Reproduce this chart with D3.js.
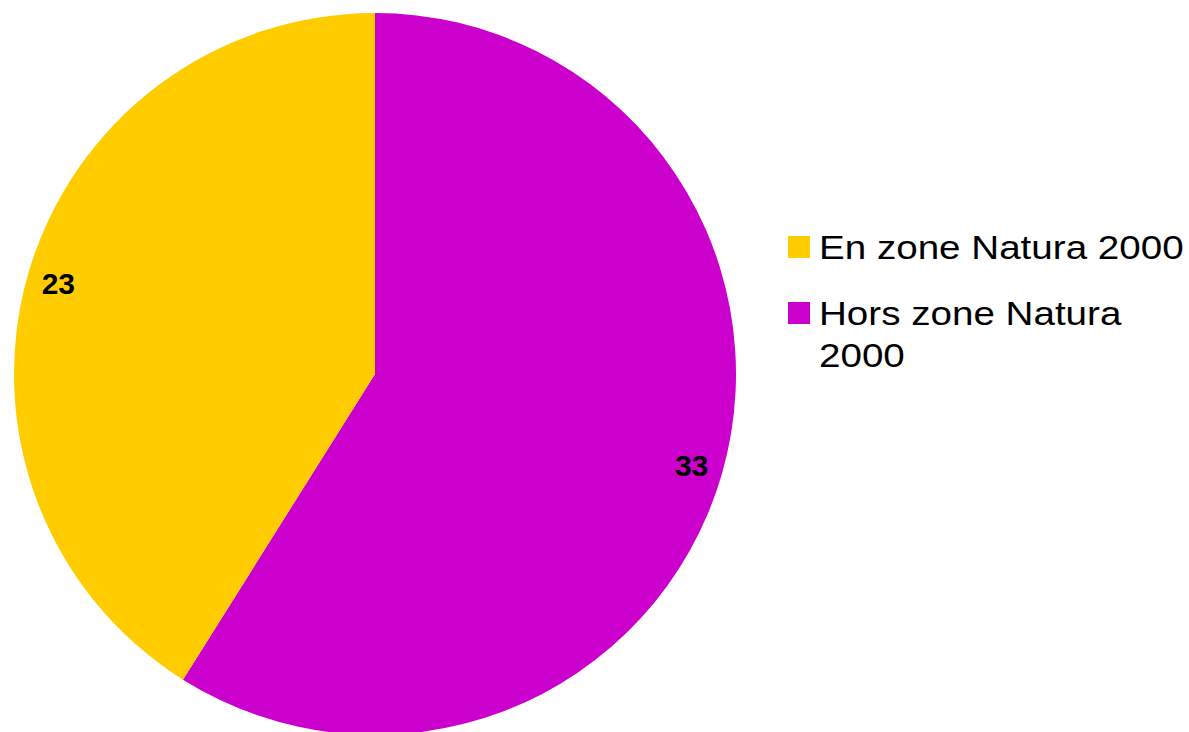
<!DOCTYPE html>
<html>
<head>
<meta charset="utf-8">
<script src="https://cdn.jsdelivr.net/npm/d3@7"></script>
<style>
  body { margin: 0; background: #fff; }
  svg { display: block; font-family: "Liberation Sans", Arial, sans-serif; }
</style>
</head>
<body>
<svg width="1189" height="732"></svg>
<script>
// data
var categories = ["Hors zone Natura 2000", "En zone Natura 2000"];
var values = [33, 23];
var colors = ["#cc00cc", "#ffcc00"];
var legendOrder = [1, 0]; // yellow first in legend
var legendLines = [["En zone Natura 2000"], ["Hors zone Natura", "2000"]];

var svg = d3.select("svg"),
    width = +svg.attr("width"),
    height = +svg.attr("height"),
    radius = 361,
    g = svg.append("g").attr("transform", "translate(375,374)");

var pie = d3.pie().sort(null).value(function(d) { return d; });
var arc = d3.arc().innerRadius(0).outerRadius(radius);
var labelArc = d3.arc().innerRadius(329.5).outerRadius(329.5);

var arcs = pie(values);

g.selectAll(".slice")
    .data(arcs)
    .enter().append("path")
    .attr("class", "slice")
    .attr("d", arc)
    .style("fill", function(d, i) { return colors[i]; });

g.selectAll(".label")
    .data(arcs)
    .enter().append("text")
    .attr("class", "label")
    .attr("transform", function(d) { return "translate(" + labelArc.centroid(d) + ")"; })
    .attr("text-anchor", "middle")
    .attr("dy", "0.36em")
    .attr("font-size", "30px")
    .attr("font-weight", "bold")
    .attr("fill", "#000")
    .text(function(d) { return d.data; });

// legend
var legend = svg.append("g").attr("transform", "translate(788,236)");
var rowY = [0, 66];

legendOrder.forEach(function(idx, k) {
  var row = legend.append("g").attr("transform", "translate(0," + rowY[k] + ")");
  row.append("rect")
      .attr("width", 22)
      .attr("height", 22)
      .style("fill", colors[idx]);
  // legend text is drawn a bit wider than normal, like in the source
  var t = row.append("text")
      .attr("transform", "translate(31,23.3) scale(1.135,1)")
      .attr("font-size", "34px")
      .attr("fill", "#000");
  legendLines[k].forEach(function(line, j) {
    t.append("tspan").attr("x", 0).attr("dy", j ? 42 : 0).text(line);
  });
});
</script>
</body>
</html>
